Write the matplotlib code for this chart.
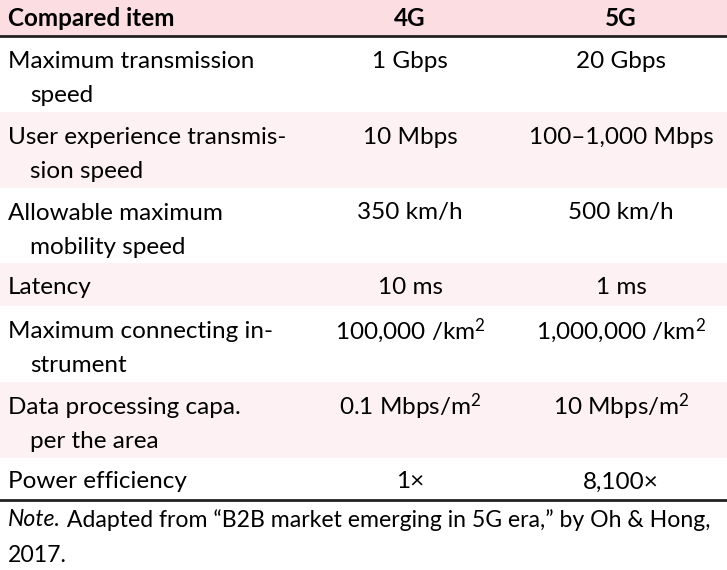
import matplotlib
matplotlib.use('Agg')
import matplotlib.pyplot as plt

plt.rcParams['font.family'] = ['Lato', 'DejaVu Sans']
plt.rcParams['mathtext.fontset'] = 'custom'
plt.rcParams['mathtext.rm'] = 'Lato'
plt.rcParams['mathtext.it'] = 'Lato:italic'

# datos de la tabla
encabezados = ['Compared item', '4G', '5G']
items = [['Maximum transmission', 'speed'],
         ['User experience transmis-', 'sion speed'],
         ['Allowable maximum', 'mobility speed'],
         ['Latency'],
         ['Maximum connecting in-', 'strument'],
         ['Data processing capa.', 'per the area'],
         ['Power efficiency']]
valores_4g = ['1 Gbps', '10 Mbps', '350 km/h', '10 ms', '100,000 /km$^2$',
              '0.1 Mbps/m$^2$', '1\u00d7']
valores_5g = ['20 Gbps', '100\u20131,000 Mbps', '500 km/h', '1 ms',
              '1,000,000 /km$^2$', '10 Mbps/m$^2$', '8,100\u00d7']
nota_1 = 'Note.'
nota_2 = ' Adapted from \u201cB2B market emerging in 5G era,\u201d by Oh & Hong,'
nota_3 = '2017.'

W, H = 727, 570
fig = plt.figure(figsize=(W / 100, H / 100), dpi=100)
ax = fig.add_axes([0, 0, 1, 1])
ax.set_xlim(0, W)
ax.set_ylim(H, 0)
ax.axis('off')

# bordes de filas (pixeles)
bordes = [36, 112, 188, 263, 306, 382, 458, 500]
rosa_head = '#fcdde1'
rosa_fila = '#fdf1f3'
fs = 17.5
x_item, x_sangria, x_4g, x_5g = 8, 30, 410, 621
lh = 34
dy = 3  # ajuste vertical del texto

ax.axhspan(0, bordes[0], color=rosa_head, lw=0)
ax.text(x_item, 17 + 1, encabezados[0], fontsize=fs, fontweight='bold', va='center')
ax.text(x_4g, 17 + 1, encabezados[1], fontsize=fs, fontweight='bold', va='center', ha='center')
ax.text(x_5g, 17 + 1, encabezados[2], fontsize=fs, fontweight='bold', va='center', ha='center')

for i in range(len(items)):
    y0, y1 = bordes[i], bordes[i + 1]
    if i % 2 == 1:
        ax.axhspan(y0, y1, color=rosa_fila, lw=0)
    if len(items[i]) == 1:
        yt = (y0 + y1) / 2 + dy
    else:
        yt = y0 + 22 + dy
    for j, linea in enumerate(items[i]):
        ax.text(x_item if j == 0 else x_sangria, yt + j * lh, linea,
                fontsize=fs, va='center')
    ax.text(x_4g, yt, valores_4g[i], fontsize=fs, va='center', ha='center')
    ax.text(x_5g, yt, valores_5g[i], fontsize=fs, va='center', ha='center')

ax.axhline(bordes[0], color='#222222', lw=2)
ax.axhline(bordes[-1], color='#222222', lw=2)

fs_nota = 16.6
t1 = ax.text(x_item, 520, nota_1, fontsize=fs_nota, style='italic', va='center')
fig.canvas.draw()
bb = t1.get_window_extent()
ax.text(bb.x1, 520, nota_2, fontsize=fs_nota, va='center')
ax.text(x_item, 556, nota_3, fontsize=fs_nota, va='center')

fig.savefig('out.png', dpi=100)
